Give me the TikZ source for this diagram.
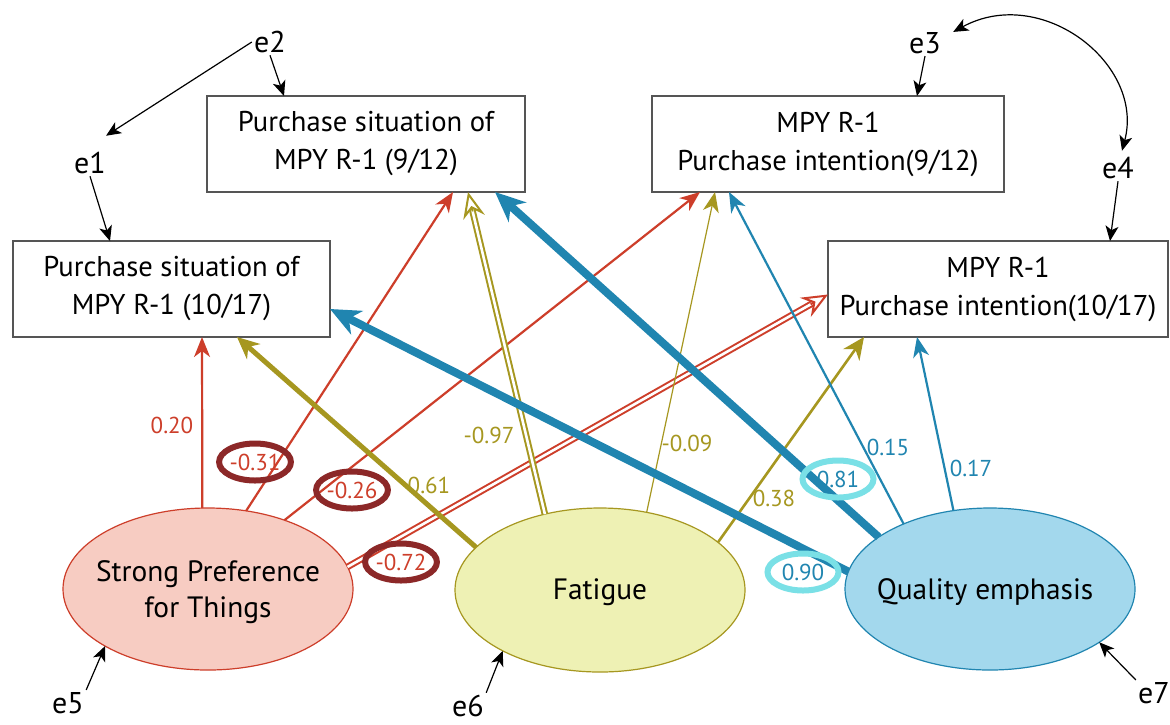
\documentclass[tikz,border=0pt]{standalone}
\usepackage{fontspec}
\setmainfont{PT Sans}
\usetikzlibrary{arrows.meta,shapes.geometric,calc}
\definecolor{redc}{RGB}{205,62,42}
\definecolor{spfill}{RGB}{247,204,194}
\definecolor{olivec}{RGB}{166,151,32}
\definecolor{fafill}{RGB}{238,241,180}
\definecolor{bluec}{RGB}{32,133,176}
\definecolor{qefill}{RGB}{163,216,237}
\definecolor{ringred}{RGB}{140,40,40}
\definecolor{ringcyan}{RGB}{122,224,230}
\definecolor{boxline}{RGB}{85,85,85}
\begin{document}
\begin{tikzpicture}[x=0.5pt,y=-0.5pt,
  obs/.style={draw=boxline, line width=0.8pt, align=center, inner sep=0pt, outer sep=0pt, minimum height=48pt, font=\fontsize{14.3}{19}\selectfont},
  lat/.style={ellipse, line width=0.6pt, inner sep=0pt, outer sep=0pt, minimum width=145pt, minimum height=81pt},
  lattext/.style={align=center, inner sep=0pt, font=\fontsize{14.7}{18}\selectfont},
  err/.style={inner sep=1pt, font=\fontsize{15}{17}\selectfont},
  earrow/.style={-{Stealth[length=7.5pt,width=6.5pt,inset=2pt]}, line width=0.6pt, black},
  lab/.style={inner sep=0pt, font=\fontsize{11.5}{13}\selectfont},
  ring/.style={ellipse, line width=3pt, inner sep=0pt, minimum width=35.5pt, minimum height=18.5pt, font=\fontsize{11.5}{13}\selectfont},
  thintip/.style={-{Stealth[length=10pt,width=8pt,inset=3pt]}},
  midtip/.style={-{Stealth[length=11pt,width=10pt,inset=3.5pt]}},
  bigtip/.style={-{Stealth[length=15pt,width=13pt,inset=4.5pt]}},
  dbl/.style={line width=1pt, double=white, double distance=1.3pt},
  opentip/.style={-{Stealth[length=13pt,width=11pt,inset=4.5pt,fill=white]}, line width=1pt}
]
\fill[white] (0,0) rectangle (1170,724);
\useasboundingbox (0,0) rectangle (1170,724);

% observed boxes
\node[obs, minimum width=159pt] (A) at (366,144) {Purchase situation of\\MPY R-1 (9/12)};
\node[obs, minimum width=158.5pt] (B) at (171.5,289) {Purchase situation of\\MPY R-1 (10/17)};
\node[obs, minimum width=176pt] (C) at (828,144) {MPY R-1\\Purchase intention(9/12)};
\node[obs, minimum width=170pt] (D) at (998,289) {MPY R-1\\Purchase intention(10/17)};

% latent ellipses
\node[lat, draw=redc, fill=spfill] (sp) at (208,589) {};
\node[lat, draw=olivec, fill=fafill, minimum height=82pt] (fa) at (600,590) {};
\node[lat, draw=bluec, fill=qefill] (qe) at (990,589) {};
\node[lattext] (spt) at (208,592) {Strong Preference\\for Things};
\node[lattext] (fat) at (600,592) {Fatigue};
\node[lattext] (qet) at (985,592) {Quality emphasis};

% error terms
\node[err] (e1) at (90,163) {e1};
\node[err] (e2) at (270,42) {e2};
\node[err] (e3) at (925,43) {e3};
\node[err] (e4) at (1118,168) {e4};
\node[err] (e5) at (68,703) {e5};
\node[err] (e6) at (468,706) {e6};
\node[err] (e7) at (1154,693) {e7};

\draw[earrow] (e2.west) -- ([xshift=8pt,yshift=7pt]e1.north);
\draw[earrow] (e2.south) -- ([xshift=-41pt]A.north);
\draw[earrow] (e1.south) -- ([xshift=-30.75pt]B.north);
\draw[earrow] (e3.south) -- ([xshift=44.5pt]C.north);
\draw[earrow] (e4.south) -- ([xshift=56pt]D.north);
\draw[{Stealth[length=7.5pt,width=6.5pt,inset=2pt]}-{Stealth[length=7.5pt,width=6.5pt,inset=2pt]}, line width=0.6pt]
  ([xshift=5pt,yshift=-1pt]e3.north east) .. controls +(88,-48) and +(23,-87) .. ([xshift=2pt,yshift=2pt]e4.north);
\draw[earrow] (e5.north east) -- (sp.209.3);
\draw[earrow] (e6.north east) -- (fa.212.3);
\draw[earrow] (e7.north west) -- (qe.334.1);

% red paths (Strong Preference)
\draw[redc, line width=1.1pt, thintip] (sp.94.2) -- ([xshift=15.25pt]B.south);
\draw[redc, line width=1.1pt, thintip] (sp.64.9) -- ([xshift=43.5pt]A.south);
\draw[redc, line width=1.1pt, thintip] (sp.42.3) -- ([xshift=-64pt]C.south);
\coordinate (rdS) at (sp.9.7);
\coordinate (rdE) at ([yshift=-2.75pt]D.west);
\draw[redc, dbl] (rdS) -- ($(rdE)!9pt!(rdS)$);
\draw[redc, opentip] ($(rdE)!10pt!(rdS)$) -- (rdE);

% olive paths (Fatigue)
\draw[olivec, line width=2.5pt, midtip] (fa.161.3) -- ([xshift=32.75pt]B.south);
\coordinate (odS) at (fa.126.5);
\coordinate (odE) at ([xshift=51pt]A.south);
\draw[olivec, dbl] (odS) -- ($(odE)!9pt!(odS)$);
\draw[olivec, opentip] ($(odE)!10pt!(odS)$) -- (odE);
\draw[olivec, line width=0.6pt, thintip] (fa.59.5) -- ([xshift=-56.5pt]C.south);
\draw[olivec, line width=1.3pt, midtip] (fa.22.3) -- ([xshift=-67pt]D.south);

% blue paths (Quality emphasis)
\draw[bluec, line width=4pt, bigtip] (qe.173.1) -- ([yshift=-10pt]B.east);
\draw[bluec, line width=4pt, bigtip] (qe.155.3) -- ([xshift=64.5pt]A.south);
\draw[bluec, line width=1.1pt, thintip] (qe.143.1) -- ([xshift=-49.5pt]C.south);
\draw[bluec, line width=1.1pt, thintip] (qe.115.7) -- ([xshift=-40.5pt]D.south);

% coefficient labels
\node[lab, text=redc] (l1) at (172,425) {0.20};
\node[ring, draw=ringred, text=redc] (l2) at (255,462) {-0.31};
\node[ring, draw=ringred, text=redc] (l3) at (352,490) {-0.26};
\node[ring, draw=ringred, text=redc] (l4) at (401,562) {-0.72};
\node[lab, text=olivec] (l5) at (429,485) {0.61};
\node[lab, text=olivec] (l6) at (489,435) {-0.97};
\node[lab, text=olivec] (l7) at (687,443) {-0.09};
\node[lab, text=olivec] (l8) at (774,498) {0.38};
\node[lab, text=bluec] (l9) at (888,447) {0.15};
\node[lab, text=bluec] (l10) at (971,468) {0.17};
\node[ring, draw=ringcyan, text=bluec] (l11) at (838,479) {0.81};
\node[ring, draw=ringcyan, text=bluec] (l12) at (803,572) {0.90};
\end{tikzpicture}
\end{document}
